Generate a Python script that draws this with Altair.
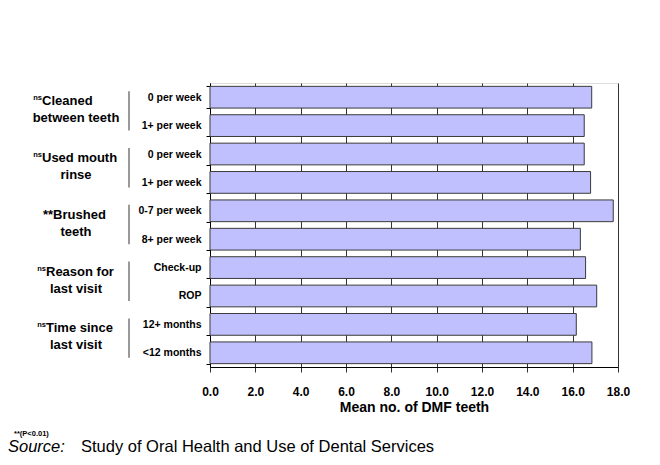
import altair as alt
import pandas as pd

# ---- data ----
categories = ["0 per week", "1+ per week", "0 per week", "1+ per week",
              "0-7 per week", "8+ per week", "Check-up", "ROP",
              "12+ months", "<12 months"]
values = [16.84, 16.51, 16.51, 16.79, 17.79, 16.34, 16.57, 17.06, 16.16, 16.85]

group_prefix = ["ns", "ns", "", "ns", "ns"]
group_line1 = ["Cleaned", "Used mouth", "**Brushed", "Reason for", "Time since"]
group_line2 = ["between teeth", "rinse", "teeth", "last visit", "last visit"]

x_ticks = [0, 2, 4, 6, 8, 10, 12, 14, 16, 18]
x_title = "Mean no. of DMF teeth"
footnote = "**(P<0.01)"
source_label = "Source:"
source_text = "Study of Oral Health and Use of Dental Services"

# ---- layout (pixel offsets relative to the plot area) ----
LINE1_LEFT = [-168, -168, -167, -164, -164]
FONT = "Liberation Sans"

keys = [f"{i}|{c}" for i, c in enumerate(categories)]
bars_df = pd.DataFrame({"key": keys, "value": values})
groups_df = pd.DataFrame({
    "key": keys[0::2],
    "key2": keys[1::2],
    "prefix": group_prefix,
    "line1": group_line1,
    "line2": group_line2,
    "lx": LINE1_LEFT,
})

yscale = alt.Scale(domain=keys, paddingInner=0.235, paddingOuter=0.118)
yaxis = alt.Axis(title=None, labelExpr="split(datum.value, '|')[1]",
                 labelFont=FONT, labelFontSize=10.5, labelFontWeight="bold",
                 labelColor="black", labelPadding=5,
                 tickBand="extent", tickSize=4, tickColor="black",
                 domainColor="black", grid=False)


def ypos(field="key"):
    return alt.Y(f"{field}:N", scale=yscale, axis=yaxis)


bars = alt.Chart(bars_df).mark_bar(
    color="#C0C0FF", stroke="#3a3a3a", strokeWidth=1
).encode(
    x=alt.X("value:Q", scale=alt.Scale(domain=[0, 18], nice=False),
            axis=alt.Axis(values=x_ticks, format=".1f", title=x_title,
                          labelFont=FONT, labelFontSize=12, labelFontWeight="bold",
                          labelColor="black", labelPadding=14, labelFlush=False,
                          titleFont=FONT, titleFontSize=14, titleFontWeight="bold",
                          titleColor="black", titlePadding=3,
                          tickSize=5, tickColor="#333333", domainColor="black",
                          grid=True, gridColor="#333333", gridOpacity=1)),
    y=ypos(),
)

line1 = alt.Chart(groups_df).mark_text(
    align="left", baseline="middle", dy=4, font=FONT, fontSize=13,
    fontWeight="bold", color="black"
).encode(
    x=alt.X("lx:Q", scale=None),
    y=ypos(),
    text="line1:N",
)

prefix = alt.Chart(groups_df).mark_text(
    align="right", baseline="middle", dy=1, font=FONT, fontSize=7.5,
    fontWeight="bold", color="black"
).encode(
    x=alt.X("lx:Q", scale=None),
    y=ypos(),
    text="prefix:N",
)

line2 = alt.Chart(groups_df).mark_text(
    align="center", baseline="middle", dy=21, font=FONT, fontSize=13,
    fontWeight="bold", color="black"
).encode(
    x=alt.value(-134),
    y=ypos(),
    text="line2:N",
)

seps = alt.Chart(groups_df).mark_rule(
    color="#777777", strokeWidth=1.5, yOffset=-6, y2Offset=5
).encode(
    x=alt.value(-81),
    y=ypos(),
    y2="key2:N",
)

foot = alt.Chart(pd.DataFrame({"t": [footnote]})).mark_text(
    align="left", baseline="middle", font=FONT, fontSize=7.5, fontWeight="bold",
    color="black"
).encode(x=alt.value(-196), y=alt.value(351), text="t:N")

src1 = alt.Chart(pd.DataFrame({"t": [source_label]})).mark_text(
    align="left", baseline="alphabetic", font=FONT, fontSize=16.5, fontStyle="italic",
    color="black"
).encode(x=alt.value(-202), y=alt.value(369), text="t:N")

src2 = alt.Chart(pd.DataFrame({"t": [source_text]})).mark_text(
    align="left", baseline="alphabetic", font=FONT, fontSize=16.5, color="black"
).encode(x=alt.value(-129), y=alt.value(369), text="t:N")

chart = alt.layer(bars, seps, line1, prefix, line2, foot, src1, src2).properties(
    width=408, height=284, autosize="none",
    padding={"left": 202, "top": 75, "right": 34, "bottom": 90},
).configure_view(stroke="black", strokeWidth=1).configure(font=FONT)

chart.save("out.html", embed_options={"renderer": "svg", "actions": False})
